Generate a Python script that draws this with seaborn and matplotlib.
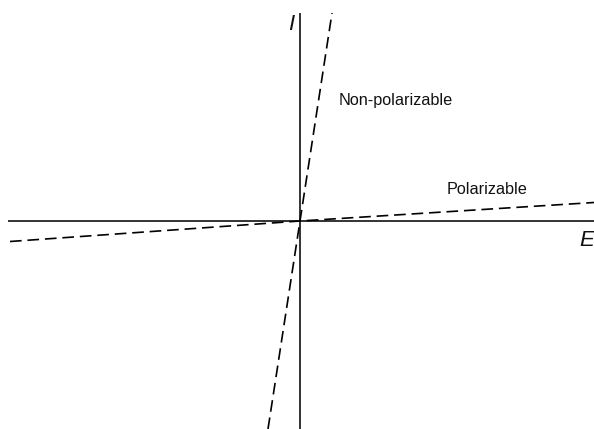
import matplotlib
matplotlib.use("Agg")
import matplotlib.pyplot as plt
import seaborn as sns
import pandas as pd

# Data (E = potential, I = current), arbitrary units
E_nonpol = [-32, 0, 32]
I_nonpol = [-208, 0, 208]
E_pol = [-290, 0, 294]
I_pol = [-20.5, 0, 18.5]
axis_E = [-292, 294]
axis_I = [-208, 208]

labels = {"nonpol": "Non-polarizable", "pol": "Polarizable", "x": "E", "y": "I"}

sns.set_theme(style="white")
plt.rcParams["font.family"] = ["Liberation Sans", "DejaVu Sans"]

fig = plt.figure(figsize=(5.94, 4.29), dpi=100)
ax = fig.add_axes([0, 0, 1, 1])

# axes lines
ax.plot(axis_E, [0, 0], color="#333333", lw=1.4, solid_capstyle="butt")
ax.plot([0, 0], axis_I, color="#333333", lw=1.4, solid_capstyle="butt")

df1 = pd.DataFrame({"E": E_nonpol, "I": I_nonpol})
df2 = pd.DataFrame({"E": E_pol, "I": I_pol})
sns.lineplot(data=df1, x="E", y="I", ax=ax, color="black", lw=1.2,
             sort=False, estimator=None)
sns.lineplot(data=df2, x="E", y="I", ax=ax, color="black", lw=1.2,
             sort=False, estimator=None)
for ln in ax.lines[2:]:
    ln.set_dashes([7, 3.5])

ax.set_xlim(-300, 294)
ax.set_ylim(-208, 221)
ax.axis("off")

ax.text(-6, 197, labels["y"], fontsize=16, style="italic", color="#111111",
        ha="right", va="center")
ax.text(294, -19, labels["x"], fontsize=16, style="italic", color="#111111",
        ha="right", va="center")
ax.text(39, 121, labels["nonpol"], fontsize=11.7, color="#111111",
        ha="left", va="center")
ax.text(147, 31, labels["pol"], fontsize=11.7, color="#111111",
        ha="left", va="center")

fig.savefig("out.png", dpi=100)
